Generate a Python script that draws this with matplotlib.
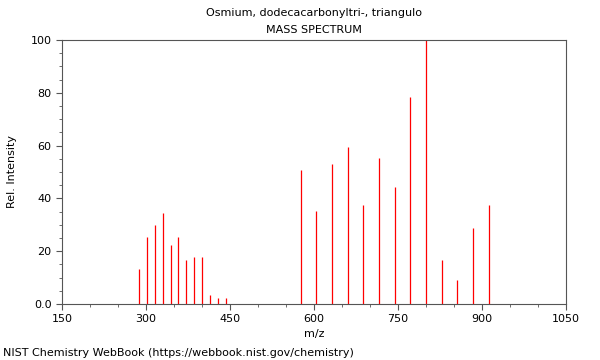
import matplotlib
matplotlib.use("Agg")
import matplotlib.pyplot as plt
from matplotlib.ticker import MultipleLocator

# peaks
mz = [288, 302, 316, 330, 344, 358, 372, 386, 400, 414, 428, 442,
      576, 604, 632, 660, 688, 716, 744, 772, 800, 828, 856, 884, 912]
intensity = [13.4, 25.4, 29.9, 34.3, 22.2, 25.4, 16.7, 17.8, 17.8, 3.4, 2.4, 2.4,
             50.8, 35.4, 53.0, 59.6, 37.5, 55.2, 44.2, 78.3, 100.0, 16.7, 9.1, 28.8, 37.5]

x_ticks = [150, 300, 450, 600, 750, 900, 1050]
y_ticks = [0, 20, 40, 60, 80, 100]
y_labels = ["0.0", "20", "40", "60", "80", "100"]

fs = 8
fig = plt.figure(figsize=(6, 3.6), dpi=100)
ax = fig.add_axes([62 / 600, 56 / 360, 504 / 600, 264 / 360])

ax.vlines(mz, 0, intensity, colors="red", linewidth=0.9)

ax.set_xlim(150, 1050)
ax.set_ylim(0, 100)
ax.set_xticks(x_ticks)
ax.set_yticks(y_ticks)
ax.set_yticklabels(y_labels)
ax.xaxis.set_minor_locator(MultipleLocator(50))
ax.yaxis.set_minor_locator(MultipleLocator(5))
ax.tick_params(which="major", length=4, width=0.8, labelsize=fs, color="#555555")
ax.tick_params(which="minor", length=2, width=0.6, color="#555555")
for s in ax.spines.values():
    s.set_color("#555555")
    s.set_linewidth(0.8)

ax.set_xlabel("m/z", fontsize=fs, labelpad=3)
ax.set_ylabel("Rel. Intensity", fontsize=fs, labelpad=10)

fig.text(314 / 600, 1 - 13 / 360, "Osmium, dodecacarbonyltri-, triangulo",
         ha="center", va="center", fontsize=fs)
fig.text(314 / 600, 1 - 30 / 360, "MASS SPECTRUM", ha="center", va="center", fontsize=fs)
fig.text(3 / 600, 1 - 353 / 360, "NIST Chemistry WebBook (https://webbook.nist.gov/chemistry)",
         ha="left", va="center", fontsize=fs)

fig.savefig("out.png", dpi=100)
